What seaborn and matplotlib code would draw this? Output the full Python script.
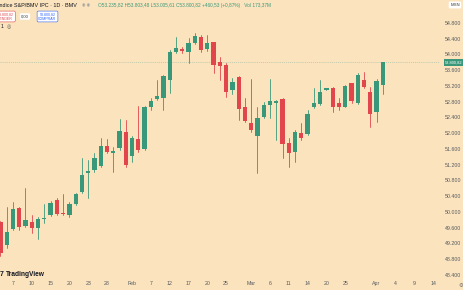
import numpy as np
import pandas as pd
import matplotlib
matplotlib.use("Agg")
import matplotlib.pyplot as plt
import seaborn as sns

# ---------------- data ----------------
opens = [49753, 49161, 49567, 50109, 49643, 49737, 49601, 49830, 49923, 50304,
         49965, 49914, 50202, 50499, 50981, 51066, 51167, 51684, 51489, 51616,
         52023, 51421, 51853, 51591, 52658, 52878, 52903, 53352, 54055, 54139,
         54072, 54300, 54436, 54131, 54309, 53801, 53733, 53098, 53437, 52658,
         52251, 51929, 52421, 52708, 52759, 52861, 51743, 51532, 52014, 51980,
         52658, 52742, 53110, 53157, 52776, 52675, 53267, 52776, 53352, 53056,
         52548, 53235.82]
closes = [48949, 49499, 50075, 49626, 49796, 49584, 49813, 49845, 50236, 49940,
          49950, 50202, 50456, 50939, 51049, 51362, 51684, 51532, 51549, 52057,
          51201, 51887, 51574, 52675, 52819, 52937, 53454, 54055, 54156, 54080,
          54283, 54470, 54114, 54300, 53733, 53708, 53056, 53310, 52607, 52319,
          52082, 52378, 52708, 52819, 52827, 51726, 51506, 52040, 51870, 52480,
          52776, 53056, 53120, 52675, 52675, 53200, 52819, 53479, 53183, 52488,
          53335, 53800.82]
highs = [49770, 50134, 50261, 50134, 50600, 49923, 49880, 50202, 50287, 50346,
         50448, 50261, 50490, 51362, 51320, 51489, 51870, 51853, 51659, 52353,
         52336, 51929, 52692, 52692, 52886, 53352, 53479, 54114, 54453, 54199,
         54410, 54537, 54495, 54495, 54326, 53945, 53775, 53400, 53454, 52886,
         53369, 52675, 52802, 53369, 52844, 52886, 51870, 52082, 52268, 52590,
         53140, 53352, 53140, 53183, 52886, 53225, 53284, 53521, 53564, 53183,
         53369, 53803.48]
lows = [48880, 49076, 49542, 49542, 49626, 49457, 49305, 49711, 49897, 49914,
        49914, 49880, 50177, 50473, 50346, 51024, 51151, 51489, 51024, 51574,
        51134, 51277, 51532, 51574, 52590, 52844, 52590, 53013, 54029, 54046,
        53775, 54266, 54072, 54097, 53521, 53352, 52929, 53000, 52336, 52294,
        52040, 50981, 52378, 52378, 51828, 51362, 51151, 51277, 51828, 51955,
        52632, 52717, 53098, 52548, 52590, 52658, 52776, 52742, 53140, 52150,
        52294, 53005.61]

holidays = ["2025-02-03", "2025-03-17"]
first_day, last_axis_day = "2025-01-03", "2025-04-14"
tick_dates = ["2025-01-07", "2025-01-10", "2025-01-15", "2025-01-20", "2025-01-23",
              "2025-01-28", "2025-02-04", "2025-02-07", "2025-02-12", "2025-02-17",
              "2025-02-20", "2025-02-25", "2025-03-03", "2025-03-06", "2025-03-11",
              "2025-03-14", "2025-03-20", "2025-03-25", "2025-04-01", "2025-04-04",
              "2025-04-09", "2025-04-14"]
tick_labels = ["7", "10", "15", "20", "23", "28", "Feb", "7", "12", "17", "20", "25",
               "Mar", "6", "11", "14", "20", "25", "Apr", "4", "9", "14"]
price_ticks = [48400, 48800, 49200, 49600, 50000, 50400, 50800, 51200, 51600,
               52000, 52400, 52800, 53200, 53600, 54000, 54400, 54800]
last_price = 53800.82

# ---------------- style ----------------
BG = "#FBE3BD"
UP = "#3a987a"
DOWN = "#e0464b"
TXT = "#555a60"

sns.set_theme(style="white", rc={"axes.facecolor": BG, "figure.facecolor": BG})
plt.rcParams["font.family"] = ["Liberation Sans", "DejaVu Sans"]

days = pd.bdate_range(first_day, last_axis_day)
days = days[~days.isin(pd.to_datetime(holidays))]
pos = {d: i for i, d in enumerate(days)}

n = len(opens)
idx = np.arange(n)
o = np.array(opens, float); c = np.array(closes, float)
h = np.array(highs, float); l = np.array(lows, float)
up = c >= o

W, H = 464, 290
fig = plt.figure(figsize=(W / 100, H / 100), dpi=100)
ax = fig.add_axes([0, 11 / H, 440 / W, 279 / H])

# wicks via seaborn
wick = pd.DataFrame({
    "x": np.repeat(idx, 2),
    "y": np.column_stack([l, h]).ravel(),
    "unit": np.repeat(idx, 2),
    "dir": np.repeat(np.where(up, "up", "down"), 2),
})
sns.lineplot(data=wick, x="x", y="y", units="unit", estimator=None, hue="dir",
             palette={"up": UP, "down": DOWN}, legend=False, linewidth=0.6,
             sort=False, ax=ax)

# bodies
body_bottom = np.minimum(o, c)
body_h = np.maximum(np.abs(c - o), 28)
ax.bar(idx, body_h, bottom=body_bottom, width=0.68,
       color=np.where(up, UP, DOWN), linewidth=0, zorder=3)

# last price line
ax.axhline(last_price, color="#a9c2a8", lw=0.5, ls=(0, (1.5, 1.5)), zorder=1)

px = 25.397  # price per pixel
ax.set_ylim(54800 - 256 * px, 54800 + 23 * px)
ax.set_xlim(-0.064, (440 - 0.4) / 6.27)

ax.yaxis.tick_right()
ax.set_yticks(price_ticks)
ax.set_yticklabels([f"{v:,}".replace(",", ".") for v in price_ticks])
ax.set_xticks([pos[pd.Timestamp(d)] for d in tick_dates])
ax.set_xticklabels(tick_labels)
ax.tick_params(axis="y", length=0, pad=3.6, labelsize=3.8, labelcolor=TXT)
ax.tick_params(axis="x", length=0, pad=1.5, labelsize=3.8, labelcolor=TXT)
for s in ax.spines.values():
    s.set_visible(False)
ax.grid(False)
ax.set_xlabel(""); ax.set_ylabel("")

def fx(x):
    return x / W

def fy(y):
    return 1 - y / H

# price tag
tag = f"{last_price:,.2f}".replace(",", "X").replace(".", ",").replace("X", ".")
fig.text(fx(445), fy(62.5), tag, fontsize=2.9, color="white", va="center", ha="left",
         bbox=dict(boxstyle="square,pad=0.3", fc=UP, ec="none"))
# currency
fig.text(fx(455), fy(5), "MXN", fontsize=3.1, color="#333", ha="center", va="center",
         bbox=dict(boxstyle="round,pad=0.35", fc="white", ec="none"))

# header
fig.text(fx(-2.5), fy(5.5), "Índice S&P/BMV IPC · 1D · BMV", fontsize=3.9,
         color="#131722", va="center", ha="left")
fig.text(fx(82), fy(5.5), "◉ ◉", fontsize=2.8, color="#9a9a9a", va="center", ha="left",
         family=["DejaVu Sans"])
fig.text(fx(98), fy(5.5),
         "O53.235,82 H53.803,48 L53.005,61 C53.800,82 +460,53 (+0,87%)   Vol 173,37M",
         fontsize=3.4, color=UP, va="center", ha="left")
fig.text(fx(-2), fy(16.5), "53.800,82\nVENDER", fontsize=2.6, color=DOWN, va="center",
         ha="left", linespacing=1.1,
         bbox=dict(boxstyle="round,pad=0.35", fc="white", ec=DOWN, lw=0.4))
fig.text(fx(25), fy(16.5), "0,00", fontsize=3, color="#333", va="center", ha="center",
         bbox=dict(boxstyle="round,pad=0.3", fc="white", ec="none"))
fig.text(fx(47.5), fy(16.5), "53.800,82\nCOMPRAR", fontsize=2.6, color="#2962ff",
         va="center", ha="center", linespacing=1.1,
         bbox=dict(boxstyle="round,pad=0.35", fc="white", ec="#2962ff", lw=0.4))
fig.text(fx(1), fy(26.5), "1", fontsize=3.6, color="#131722", va="center", ha="left")
fig.text(fx(7), fy(26.5), "◎", fontsize=3.6, color="#555", va="center", ha="left",
         family=["DejaVu Sans"])

# TradingView logo
fig.text(fx(0), fy(274), "7", fontsize=5, fontweight="bold", color="#131722",
         va="center", ha="left")
fig.text(fx(5.5), fy(274), "TradingView", fontsize=4.8, fontweight="bold",
         color="#131722", va="center", ha="left")
# settings icon
fig.text(fx(461), fy(285.5), "⚙", fontsize=4, color="#666", va="center", ha="center",
         family=["DejaVu Sans"])

fig.savefig("out.png", dpi=100, facecolor=BG)
